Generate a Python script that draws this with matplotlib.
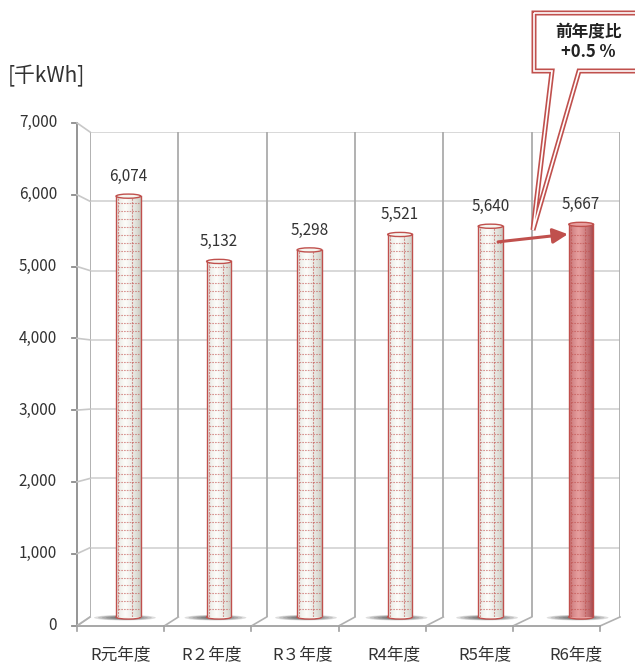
import matplotlib
matplotlib.use("Agg")
import matplotlib.pyplot as plt
import matplotlib.transforms as mtransforms
from matplotlib.patches import Ellipse, Polygon
import numpy as np

plt.rcParams['font.family'] = ['Noto Sans CJK JP', 'DejaVu Sans']

# data
categories = ["R元年度", "R２年度", "R３年度", "R4年度", "R5年度", "R6年度"]
values = [6074, 5132, 5298, 5521, 5640, 5667]
yticks = [0, 1000, 2000, 3000, 4000, 5000, 6000, 7000]
unit_label = "[千kWh]"
callout_text = "前年度比\n+0.5 %"

W, H = 635, 664
fig = plt.figure(figsize=(W / 100, H / 100), dpi=100)


def box(l, t, r, b):
    return [l / W, 1 - b / H, (r - l) / W, (b - t) / H]


red = '#C0504D'
txt = '#333333'

# back wall
ax = fig.add_axes(box(90, 132, 620, 617))
ax.set_zorder(1)
ax.axis('off')
for t in yticks[1:]:
    ax.axhline(t, color='#D6D6D6', lw=1.3, zorder=0)
for k in np.arange(-0.5, len(categories), 1):
    ax.axvline(k, color='#ABABAB', lw=1.3, zorder=0)

bw = 0.28
eh = 60


def gradient(edge, mid, n=64):
    t = np.linspace(0, 1, n)
    f = np.clip(1 - np.abs(t - 0.38) / 0.62, 0, 1) ** 0.6
    edge = np.array(edge) / 255
    mid = np.array(mid) / 255
    return (edge[None, :] + (mid - edge)[None, :] * f[:, None])[None, :, :]


for i, v in enumerate(values):
    last = i == len(values) - 1
    x = i + (i - 2.6) * 0.025  # slight perspective spread
    if last:
        g = gradient((150, 55, 60), (232, 160, 160))
        top = '#E8A0A0'
    else:
        g = gradient((195, 195, 185), (253, 253, 250))
        top = '#F6F6F0'
    # shadow
    for s in np.linspace(1, 0.35, 6):
        ax.add_patch(Ellipse((x - 0.04, -10), 0.7 * s, 80 * s, color='#303030',
                             alpha=0.16, lw=0, zorder=2, clip_on=False))
    ax.add_patch(Ellipse((x, 0), bw, eh, facecolor=top, edgecolor=red, lw=1,
                         zorder=3, clip_on=False))
    ax.imshow(g, extent=[x - bw / 2, x + bw / 2, 0, v], aspect='auto',
              interpolation='bilinear', zorder=4)
    # pattern
    for y in np.arange(110, v - 40, 115):
        ax.plot([x - bw * 0.42, x + bw * 0.42], [y, y], color=red, lw=0.8,
                ls=(0, (1.5, 1)), alpha=0.6, zorder=5)
    for xo in (-0.115, 0.04):
        ax.plot([x + xo, x + xo], [0, v], color=red, lw=0.8,
                ls=(0, (2, 1)), alpha=0.6, zorder=5)
    ax.plot([x - bw / 2, x - bw / 2], [0, v], color=red, lw=1, zorder=6)
    ax.plot([x + bw / 2, x + bw / 2], [0, v], color=red, lw=1, zorder=6)
    ax.add_patch(Ellipse((x, v), bw, eh, facecolor=top, edgecolor=red, lw=1,
                         zorder=7, clip_on=False))
    ax.annotate(f"{v:,}", (x, v), xytext=(0, 8), textcoords='offset points',
                ha='center', va='bottom', fontsize=11, color=txt)

# arrow between the last two years
ax.annotate('', xy=(5 + 2.4 * 0.025 - bw / 2 - 0.01, values[5] * 0.975),
            xytext=(4 + 0.12, values[4] * 0.96),
            arrowprops=dict(arrowstyle='-|>,head_length=0.9,head_width=0.45',
                            color=red, lw=2.2, shrinkA=0, shrinkB=0), zorder=8)
ax.set_xlim(-0.5, len(categories) - 0.5)
ax.set_ylim(0, 7000)

# category labels
blend = mtransforms.blended_transform_factory(ax.transData, fig.transFigure)
for i, c in enumerate(categories):
    off = mtransforms.ScaledTranslation((i - 5) * 2.8 / 100, 0, fig.dpi_scale_trans)
    ax.text(i, 1 - 655 / H, c, transform=blend + off, ha='center', va='center',
            fontsize=12, color=txt)

# overlay: front axis, floor, callout
ov = fig.add_axes([0, 0, 1, 1])
ov.set_zorder(2)
ov.set_xlim(0, W)
ov.set_ylim(H, 0)
ov.axis('off')


def yf(v):
    return 625.5 - v * 0.0718


def yb(v):
    return 617 - v * 485 / 7000


ov.plot([77, 77], [yf(7000), yf(0)], color='#8C8C8C', lw=1.3)
for t in yticks:
    ov.plot([72, 77], [yf(t), yf(t)], color='#8C8C8C', lw=1.3)
    ov.plot([77, 90], [yf(t), yb(t)], color='#C8C8C8', lw=1.2)
    ov.text(57, yf(t), f"{t:,}", ha='right', va='center', fontsize=11, color=txt)

ov.plot([77, 600], [626, 626], color='#A0A0A0', lw=1.3)
for k in range(len(categories) + 1):
    xb = 90 + k * 530 / 6
    xf = 77 + k * 523 / 6
    ov.plot([xf, xb], [626, 617], color='#B0B0B0', lw=1.2)
    ov.plot([xf, xf], [626, 631], color='#A0A0A0', lw=1.2)

fig.text(8 / W, 1 - 76 / H, unit_label, ha='left', va='center', fontsize=15,
         color=txt)

pts = [(534, 13), (650, 13), (650, 71), (579, 71), (533, 230), (552, 71), (534, 71)]
ov.add_patch(Polygon(pts, closed=True, facecolor='white', edgecolor=red, lw=3.6,
                     joinstyle='miter'))
ov.add_patch(Polygon(pts, closed=True, facecolor='none', edgecolor='white', lw=1.2,
                     joinstyle='miter'))
ov.text(588, 42, callout_text, ha='center', va='center', fontsize=12,
        fontweight='bold', color='#222222', linespacing=1.2)

fig.savefig('out.png', dpi=100)
